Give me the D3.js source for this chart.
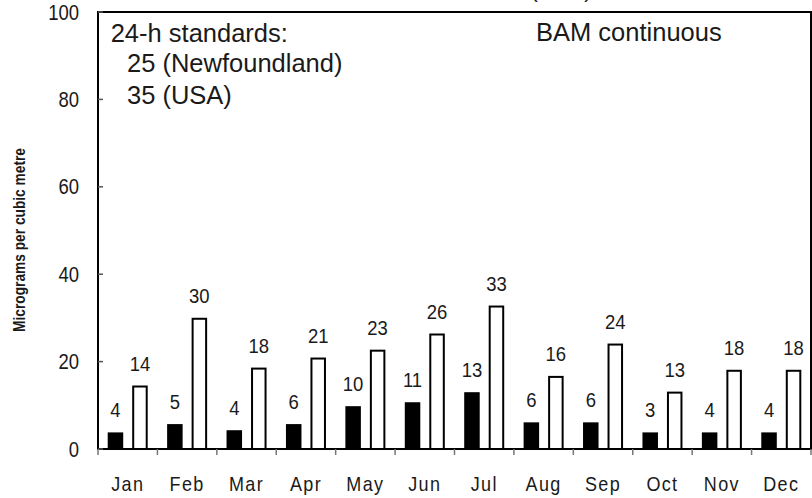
<!DOCTYPE html>
<html><head><meta charset="utf-8">
<script src="https://cdn.jsdelivr.net/npm/d3@7"></script>
<style>
html,body{margin:0;padding:0;background:#fff;}
svg{display:block;}
text{font-family:"Liberation Sans",Arial,Helvetica,sans-serif;fill:#1a1a1a;}
</style></head>
<body>
<svg id="chart" width="812" height="498"></svg>
<script>
const months = ["Jan","Feb","Mar","Apr","May","Jun","Jul","Aug","Sep","Oct","Nov","Dec"];
const seriesKeys = ["low","high"];
const lowValues  = [3.8, 5.7, 4.3, 5.7, 9.8, 10.7, 13.0, 6.1, 6.1, 3.8, 3.8, 3.8];
const highValues = [14.3, 29.8, 18.4, 20.7, 22.5, 26.2, 32.6, 16.5, 23.9, 12.9, 17.9, 17.9];
const lowLabels  = ["4","5","4","6","10","11","13","6","6","3","4","4"];
const highLabels = ["14","30","18","21","23","26","33","16","24","13","18","18"];
const yTicks = [0, 20, 40, 60, 80, 100];
const yTitle = "Micrograms per cubic metre";
const noteLines = ["24-h standards:", "25 (Newfoundland)", "35 (USA)"];
const methodLabel = "BAM continuous";
const topTitle = "(2006)";

const svg = d3.select("#chart");
const m = {left: 98, top: 12, right: 811, bottom: 449};

const x0 = d3.scaleBand().domain(months).range([m.left, m.right]).padding(0);
const x1 = d3.scaleBand().domain(seriesKeys).range([0, x0.bandwidth()]).paddingInner(0.367).paddingOuter(0.396);
const y = d3.scaleLinear().domain([0, 100]).range([m.bottom, m.top]);

const data = months.map((mo, i) => ({month: mo, low: lowValues[i], high: highValues[i], lowLab: lowLabels[i], highLab: highLabels[i]}));

// cut-off title at top (only the tails of the brackets show in the reference)
svg.append("text").attr("x", 561).attr("y", -2).attr("text-anchor", "middle")
  .style("font-size", "21px").text(topTitle);

// bars
const g = svg.append("g");
const groups = g.selectAll("g.mo").data(data).join("g").attr("class","mo")
  .attr("transform", d => `translate(${x0(d.month)},0)`);

groups.append("rect")
  .attr("x", x1("low")).attr("width", x1.bandwidth())
  .attr("y", d => y(d.low)).attr("height", d => y(0) - y(d.low))
  .attr("fill", "#000");

groups.append("rect")
  .attr("x", x1("high") + 1).attr("width", x1.bandwidth() - 2)
  .attr("y", d => y(d.high)).attr("height", d => y(0) - y(d.high))
  .attr("fill", "#fff").attr("stroke", "#000").attr("stroke-width", 2);

function numText(sel, cx, by, txt, size, sx) {
  sel.append("text")
    .attr("transform", `translate(${cx},${by}) scale(${sx},1)`)
    .attr("text-anchor", "middle")
    .style("font-size", size + "px")
    .text(txt);
}
groups.each(function(d) {
  const sel = d3.select(this);
  numText(sel, x1("low") + x1.bandwidth()/2, y(d.low) - 15.5, d.lowLab, 21, 0.88);
  numText(sel, x1("high") + x1.bandwidth()/2, y(d.high) - 15.5, d.highLab, 21, 0.88);
});

// frame
svg.append("rect").attr("x", m.left).attr("y", m.top)
  .attr("width", m.right - m.left).attr("height", m.bottom - m.top)
  .attr("fill", "none").attr("stroke", "#000").attr("stroke-width", 2);

// y axis ticks (inward) and labels
const yAxis = svg.append("g");
yAxis.selectAll("line").data(yTicks).join("line")
  .attr("x1", m.left).attr("x2", m.left + 5)
  .attr("y1", d => y(d)).attr("y2", d => y(d))
  .attr("stroke", "#555").attr("stroke-width", 1.5);
yTicks.forEach(t => {
  yAxis.append("text")
    .attr("transform", `translate(79,${y(t) + 7.5}) scale(0.86,1)`)
    .attr("text-anchor", "end")
    .style("font-size", "21.5px")
    .text(t);
});

// x axis ticks (outward)
const bounds = months.map(mo => x0(mo)).concat([m.right]);
svg.append("g").selectAll("line").data(bounds).join("line")
  .attr("x1", d => d).attr("x2", d => d)
  .attr("y1", m.bottom).attr("y2", m.bottom + 6)
  .attr("stroke", "#777").attr("stroke-width", 1.5);

svg.append("g").selectAll("text").data(months).join("text")
  .attr("transform", d => `translate(${x0(d) + x0.bandwidth()/2},490.5) scale(0.9,1)`)
  .attr("text-anchor", "middle")
  .style("font-size", "20px")
  .style("letter-spacing", "1.5px")
  .text(d => d);

// y title
svg.append("text")
  .attr("transform", "translate(25,240) rotate(-90)")
  .attr("text-anchor", "middle")
  .style("font-size", "16.5px").style("font-weight", "bold")
  .attr("textLength", 184).attr("lengthAdjust", "spacingAndGlyphs")
  .text(yTitle);

// notes
const noteX = [110.7, 127, 127];
const noteY = [42, 72, 104];
noteLines.forEach((t, i) => {
  svg.append("text").attr("x", noteX[i]).attr("y", noteY[i])
    .style("font-size", "25.5px").text(t);
});
svg.append("text").attr("x", 536).attr("y", 40.7)
  .style("font-size", "25.5px")
  .text(methodLabel);
</script>
</body></html>
